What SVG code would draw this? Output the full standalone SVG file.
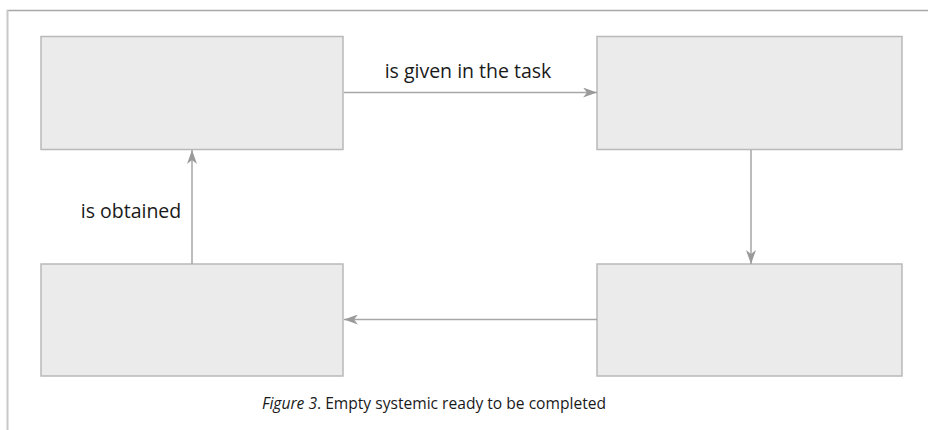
<svg xmlns="http://www.w3.org/2000/svg" width="928" height="430" viewBox="0 0 928 430">
<style>
.box{fill:#ebebeb;stroke:#b9b9b9;stroke-width:1.5}
.edge{fill:none;stroke:#a6a6a6;stroke-width:1.5}
.lbl{font-family:"Open Sans","Liberation Sans",sans-serif;font-size:19.5px;fill:#1a1a1a}
.cap{font-family:"Open Sans","Liberation Sans",sans-serif;font-size:15.6px;fill:#1a1a1a}
</style>
<defs>
<marker id="ah" viewBox="0 0 14 10" refX="14" refY="5" markerWidth="14" markerHeight="10" markerUnits="userSpaceOnUse" orient="auto">
<path d="M0,0 L14,5 L0,10 L4,5 Z" fill="#9a9a9a"/>
</marker>
</defs>
<rect width="928" height="430" fill="#ffffff"/>
<g id="frame">
<line x1="7" y1="10.5" x2="928" y2="10.5" stroke="#a8a8a8" stroke-width="1.5"/>
<line x1="7.5" y1="10" x2="7.5" y2="430" stroke="#c8c8c8" stroke-width="2"/>
</g>
<g id="node1"><rect class="box" x="41" y="36.5" width="302" height="113"/></g>
<g id="node2"><rect class="box" x="597" y="36.5" width="305" height="113"/></g>
<g id="node3"><rect class="box" x="597" y="264" width="305" height="112"/></g>
<g id="node4"><rect class="box" x="41" y="264" width="302" height="112"/></g>
<g id="connectors">
<line class="edge" x1="344" y1="92.5" x2="597" y2="92.5" marker-end="url(#ah)"/>
<line class="edge" x1="751" y1="150" x2="751" y2="264" marker-end="url(#ah)"/>
<line class="edge" x1="597" y1="319.5" x2="344" y2="319.5" marker-end="url(#ah)"/>
<line class="edge" x1="192" y1="264" x2="192" y2="150" marker-end="url(#ah)"/>
</g>
<g id="labels">
<text class="lbl" x="468" y="78" text-anchor="middle">is given in the task</text>
<text class="lbl" x="131" y="218" text-anchor="middle">is obtained</text>
<text class="cap" x="434" y="409" text-anchor="middle"><tspan font-style="italic">Figure 3</tspan>. Empty systemic ready to be completed</text>
</g>
</svg>
